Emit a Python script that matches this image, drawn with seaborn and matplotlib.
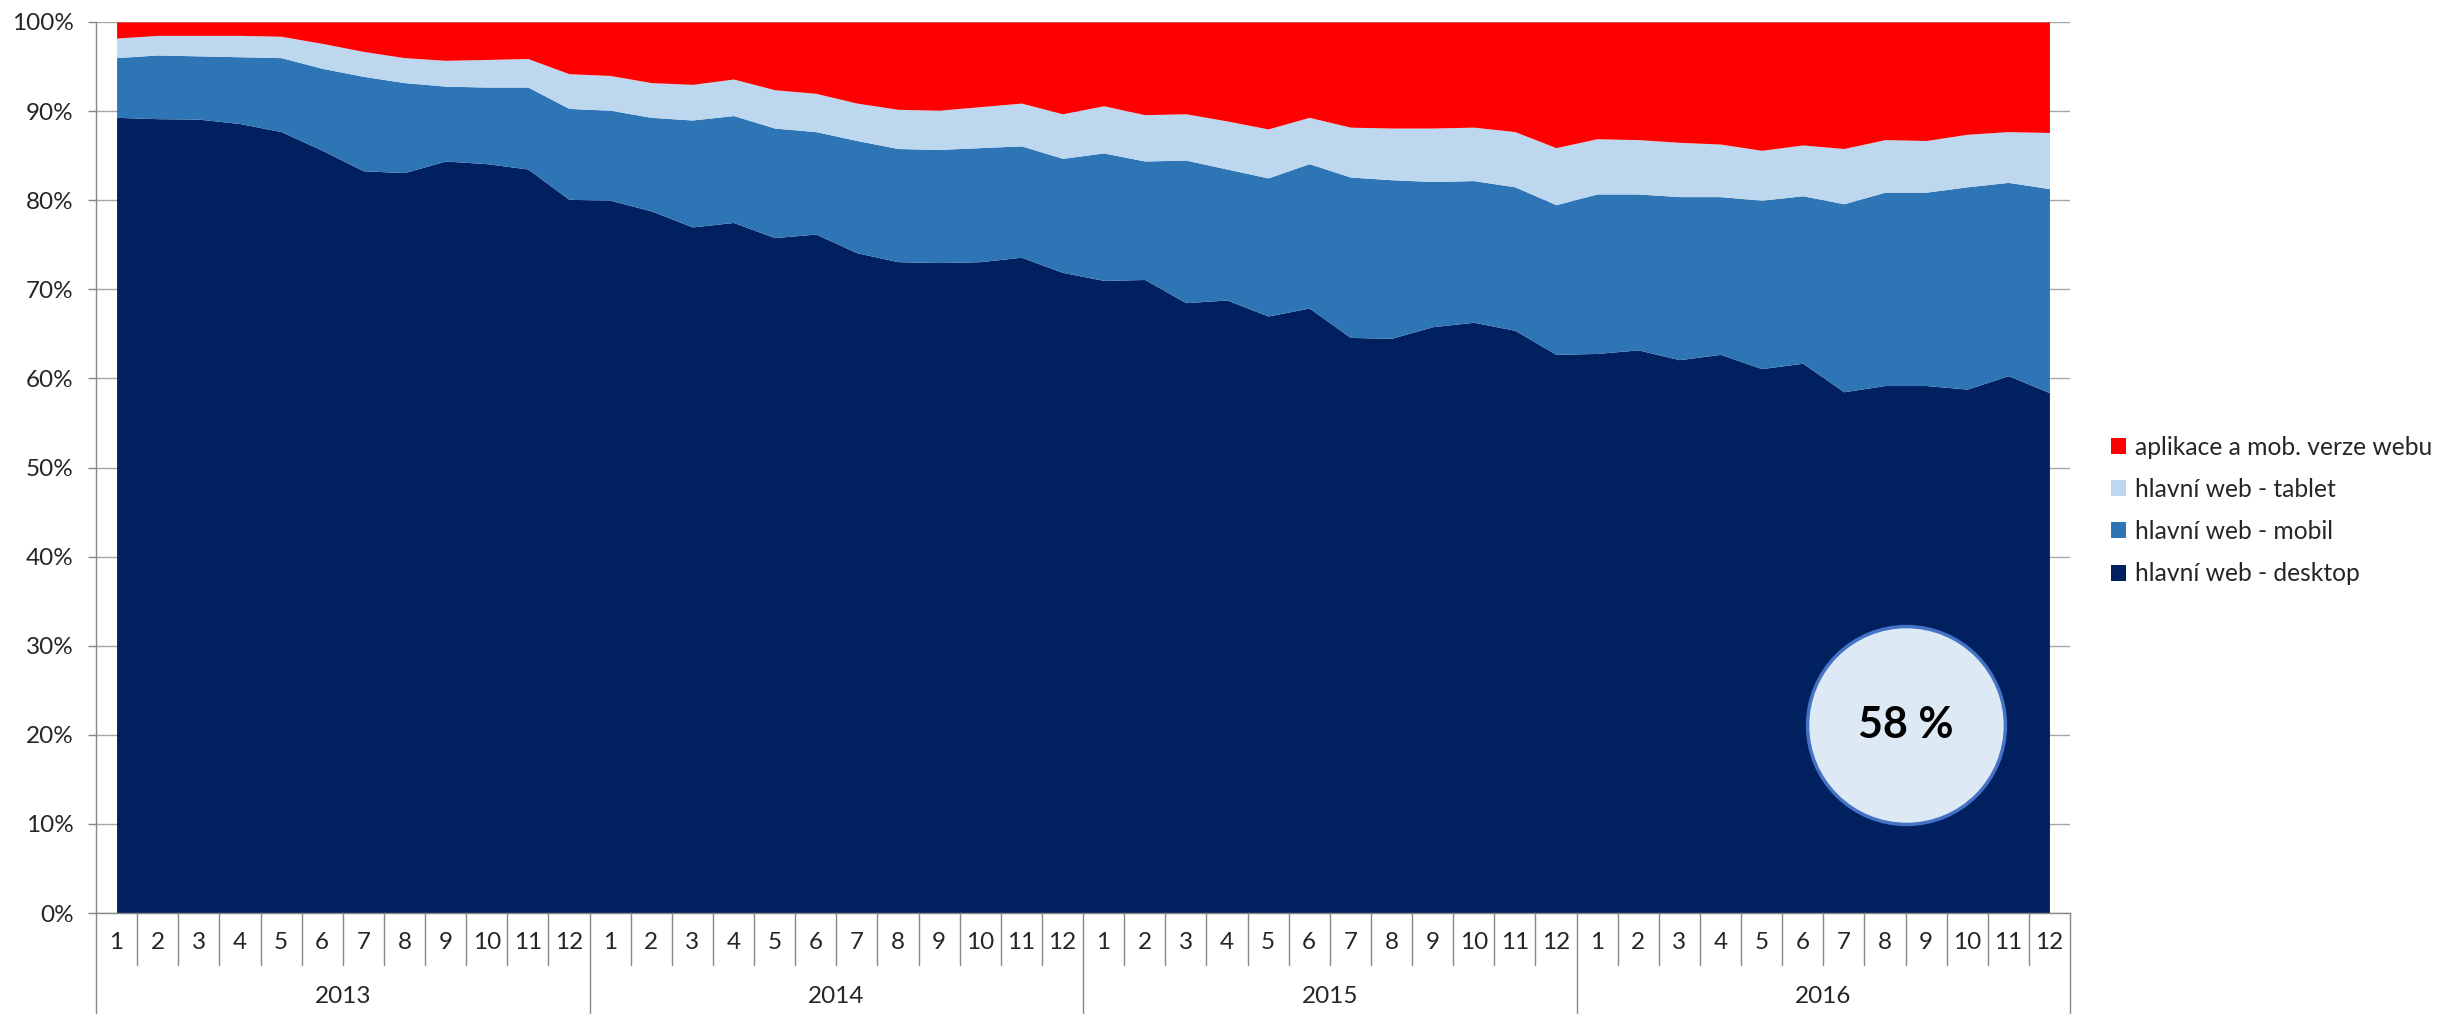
import numpy as np
import pandas as pd
import matplotlib
matplotlib.use('Agg')
import matplotlib.pyplot as plt
import matplotlib.transforms as mtransforms
import seaborn as sns

# monthly shares (%), 2013-01 .. 2016-12
years = ['2013', '2014', '2015', '2016']
months = [str(m) for m in range(1, 13)]

desktop = [89.3, 89.15, 89.1, 88.6, 87.7, 85.6, 83.3, 83.1, 84.4, 84.1, 83.5, 80.1,
           80.0, 78.8, 77.0, 77.5, 75.8, 76.2, 74.1, 73.1, 73.0, 73.1, 73.6, 71.9,
           71.0, 71.1, 68.5, 68.8, 67.0, 67.9, 64.6, 64.5, 65.8, 66.3, 65.4, 62.7,
           62.8, 63.2, 62.1, 62.7, 61.1, 61.7, 58.5, 59.2, 59.2, 58.8, 60.3, 58.4]
mobile = [6.7, 7.15, 7.1, 7.5, 8.3, 9.2, 10.6, 10.1, 8.4, 8.6, 9.2, 10.2,
          10.1, 10.5, 12.0, 12.0, 12.3, 11.5, 12.6, 12.7, 12.7, 12.8, 12.5, 12.8,
          14.3, 13.3, 16.0, 14.7, 15.5, 16.2, 18.0, 17.8, 16.3, 15.9, 16.1, 16.8,
          17.9, 17.5, 18.3, 17.7, 18.9, 18.8, 21.1, 21.7, 21.7, 22.7, 21.7, 22.9]
tablet = [2.2, 2.2, 2.3, 2.4, 2.4, 2.8, 2.8, 2.8, 2.9, 3.1, 3.2, 3.9,
          3.9, 3.9, 4.0, 4.1, 4.3, 4.3, 4.2, 4.4, 4.4, 4.6, 4.8, 5.0,
          5.3, 5.2, 5.2, 5.4, 5.5, 5.2, 5.6, 5.8, 6.0, 6.0, 6.2, 6.4,
          6.2, 6.1, 6.1, 5.9, 5.6, 5.7, 6.2, 5.9, 5.8, 5.9, 5.7, 6.3]
app = [1.8, 1.5, 1.5, 1.5, 1.6, 2.4, 3.3, 4.0, 4.3, 4.2, 4.1, 5.8,
       6.0, 6.8, 7.0, 6.4, 7.6, 8.0, 9.1, 9.8, 9.9, 9.5, 9.1, 10.3,
       9.4, 10.4, 10.3, 11.1, 12.0, 10.7, 11.8, 11.9, 11.9, 11.8, 12.3, 14.1,
       13.1, 13.2, 13.5, 13.7, 14.4, 13.8, 14.2, 13.2, 13.3, 12.6, 12.3, 12.4]

series_labels = ['hlavní web - desktop', 'hlavní web - mobil',
                 'hlavní web - tablet', 'aplikace a mob. verze webu']
series_colors = ['#002060', '#2E75B6', '#BDD7EE', '#FF0000']

sns.set_theme(style='white')
plt.rcParams['font.family'] = ['Lato', 'DejaVu Sans']

df = pd.DataFrame({series_labels[0]: desktop, series_labels[1]: mobile,
                   series_labels[2]: tablet, series_labels[3]: app})
df = df.div(df.sum(axis=1), axis=0) * 100  # 100% stacked
x = np.arange(len(df))

fig = plt.figure(figsize=(24.38, 10.14), dpi=100)
ax = fig.add_axes([96 / 2438, 101 / 1014, 1974 / 2438, 891 / 1014])

ax.stackplot(x, *[df[c] for c in series_labels], colors=series_colors,
             labels=series_labels, linewidth=0, zorder=2)

ax.set_xlim(-0.5, len(df) - 0.5)
ax.set_ylim(0, 100)
ax.set_yticks(range(0, 101, 10))
ax.set_yticklabels([f'{v}%' for v in range(0, 101, 10)], fontsize=17.5)
ax.yaxis.grid(True, color='#A6A6A6', linewidth=1, zorder=0)
ax.set_axisbelow(True)
ax.tick_params(axis='y', left=True, length=6, width=1, color='#868686', pad=10)

ax.set_xticks(x)
ax.set_xticklabels(months * len(years), fontsize=17.5)
ax.tick_params(axis='x', length=0, pad=14)

for side in ['top', 'right']:
    ax.spines[side].set_visible(False)
for side in ['left', 'bottom']:
    ax.spines[side].set_color('#868686')
    ax.spines[side].set_linewidth(1)

# category separators under the axis
trans = mtransforms.blended_transform_factory(ax.transData, ax.transAxes)
for k in range(len(df) + 1):
    y_end = -0.1134 if k % 12 == 0 else -0.0584
    ax.plot([k - 0.5, k - 0.5], [0, y_end], transform=trans, clip_on=False,
            color='#868686', linewidth=1)
for j, yr in enumerate(years):
    ax.text(12 * j + 5.5, -0.094, yr, transform=trans, ha='center', va='center',
            fontsize=17.5)

# highlight bubble with the final desktop share
ax.scatter([0.917], [0.211], s=20300, transform=ax.transAxes, color='#DEE9F6',
           edgecolor='#4472C4', linewidth=2.5, zorder=5, clip_on=False)
ax.text(0.917, 0.211, f'{round(desktop[-1])} %', transform=ax.transAxes,
        ha='center', va='center', fontsize=31, fontweight='bold', color='black',
        zorder=6)

handles, labels = ax.get_legend_handles_labels()
fig.legend(handles[::-1], labels[::-1], loc='center left',
           bbox_to_anchor=(2111 / 2438, 0.4966), frameon=False, fontsize=17.7,
           handlelength=0.62, handleheight=0.62, handletextpad=0.35,
           labelspacing=0.78, borderpad=0, borderaxespad=0)

fig.savefig('out.png', dpi=100)
